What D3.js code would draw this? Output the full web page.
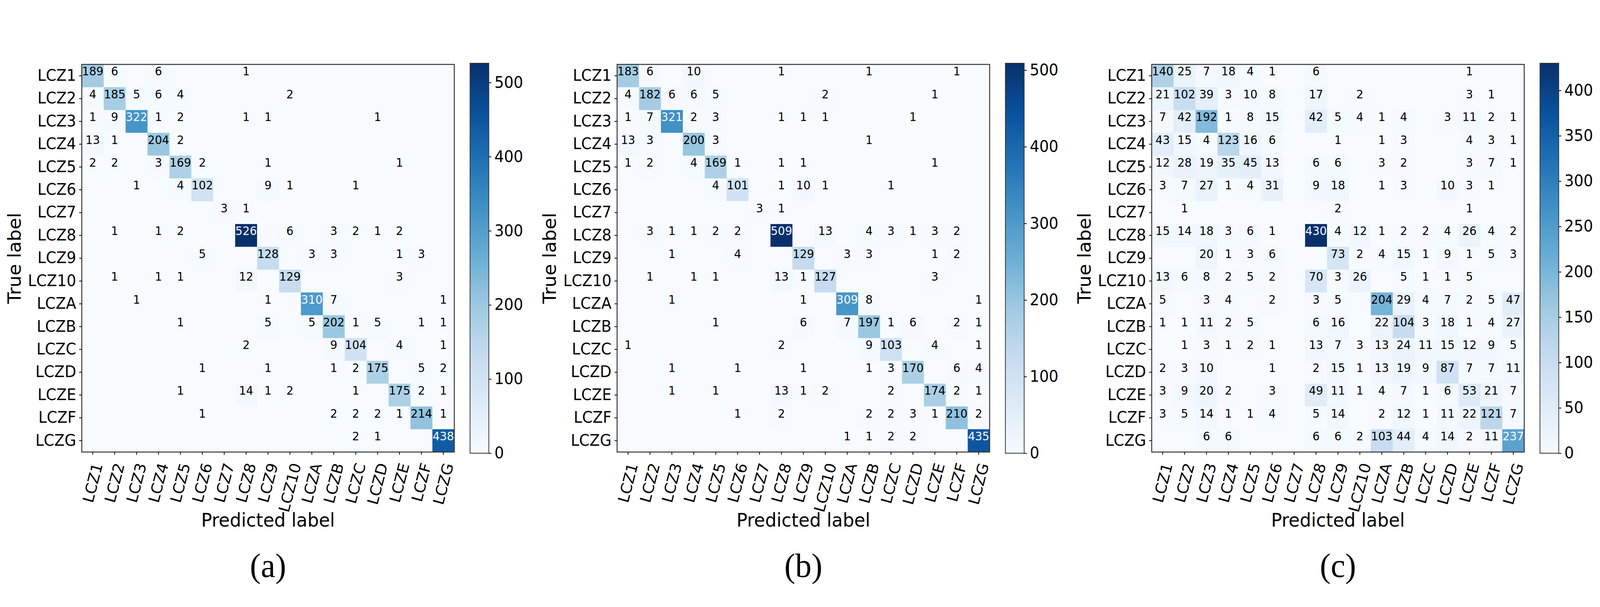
<!DOCTYPE html>
<html>
<head>
<meta charset="utf-8">
<script src="https://cdn.jsdelivr.net/npm/d3@7"></script>
<style>
  html, body { margin: 0; padding: 0; background: #fff; overflow: hidden; }
  svg { display: block; width: 100vw; height: 100vh; }
  text { font-family: "DejaVu Sans", sans-serif; }
</style>
</head>
<body>
<svg id="svg" viewBox="0 0 4265 1555" preserveAspectRatio="none"></svg>
<script>
// class labels (rows = true, cols = predicted)
var classes = ['LCZ1', 'LCZ2', 'LCZ3', 'LCZ4', 'LCZ5', 'LCZ6', 'LCZ7', 'LCZ8', 'LCZ9',
    'LCZ10', 'LCZA', 'LCZB', 'LCZC', 'LCZD', 'LCZE', 'LCZF', 'LCZG']

var cmA = [
    [189, 6, 0, 6, 0, 0, 0, 1, 0, 0, 0, 0, 0, 0, 0, 0, 0],
    [4, 185, 5, 6, 4, 0, 0, 0, 0, 2, 0, 0, 0, 0, 0, 0, 0],
    [1, 9, 322, 1, 2, 0, 0, 1, 1, 0, 0, 0, 0, 1, 0, 0, 0],
    [13, 1, 0, 204, 2, 0, 0, 0, 0, 0, 0, 0, 0, 0, 0, 0, 0],
    [2, 2, 0, 3, 169, 2, 0, 0, 1, 0, 0, 0, 0, 0, 1, 0, 0],
    [0, 0, 1, 0, 4, 102, 0, 0, 9, 1, 0, 0, 1, 0, 0, 0, 0],
    [0, 0, 0, 0, 0, 0, 3, 1, 0, 0, 0, 0, 0, 0, 0, 0, 0],
    [0, 1, 0, 1, 2, 0, 0, 526, 0, 6, 0, 3, 2, 1, 2, 0, 0],
    [0, 0, 0, 0, 0, 5, 0, 0, 128, 0, 3, 3, 0, 0, 1, 3, 0],
    [0, 1, 0, 1, 1, 0, 0, 12, 0, 129, 0, 0, 0, 0, 3, 0, 0],
    [0, 0, 1, 0, 0, 0, 0, 0, 1, 0, 310, 7, 0, 0, 0, 0, 1],
    [0, 0, 0, 0, 1, 0, 0, 0, 5, 0, 5, 202, 1, 5, 0, 1, 1],
    [0, 0, 0, 0, 0, 0, 0, 2, 0, 0, 0, 9, 104, 0, 4, 0, 1],
    [0, 0, 0, 0, 0, 1, 0, 0, 1, 0, 0, 1, 2, 175, 0, 5, 2],
    [0, 0, 0, 0, 1, 0, 0, 14, 1, 2, 0, 0, 1, 0, 175, 2, 1],
    [0, 0, 0, 0, 0, 1, 0, 0, 0, 0, 0, 2, 2, 2, 1, 214, 1],
    [0, 0, 0, 0, 0, 0, 0, 0, 0, 0, 0, 0, 2, 1, 0, 0, 438]
]

var cmB = [
    [183, 6, 0, 10, 0, 0, 0, 1, 0, 0, 0, 1, 0, 0, 0, 1, 0],
    [4, 182, 6, 6, 5, 0, 0, 0, 0, 2, 0, 0, 0, 0, 1, 0, 0],
    [1, 7, 321, 2, 3, 0, 0, 1, 1, 1, 0, 0, 0, 1, 0, 0, 0],
    [13, 3, 0, 200, 3, 0, 0, 0, 0, 0, 0, 1, 0, 0, 0, 0, 0],
    [1, 2, 0, 4, 169, 1, 0, 1, 1, 0, 0, 0, 0, 0, 1, 0, 0],
    [0, 0, 0, 0, 4, 101, 0, 1, 10, 1, 0, 0, 1, 0, 0, 0, 0],
    [0, 0, 0, 0, 0, 0, 3, 1, 0, 0, 0, 0, 0, 0, 0, 0, 0],
    [0, 3, 1, 1, 2, 2, 0, 509, 0, 13, 0, 4, 3, 1, 3, 2, 0],
    [0, 0, 1, 0, 0, 4, 0, 0, 129, 0, 3, 3, 0, 0, 1, 2, 0],
    [0, 1, 0, 1, 1, 0, 0, 13, 1, 127, 0, 0, 0, 0, 3, 0, 0],
    [0, 0, 1, 0, 0, 0, 0, 0, 1, 0, 309, 8, 0, 0, 0, 0, 1],
    [0, 0, 0, 0, 1, 0, 0, 0, 6, 0, 7, 197, 1, 6, 0, 2, 1],
    [1, 0, 0, 0, 0, 0, 0, 2, 0, 0, 0, 9, 103, 0, 4, 0, 1],
    [0, 0, 1, 0, 0, 1, 0, 0, 1, 0, 0, 1, 3, 170, 0, 6, 4],
    [0, 0, 1, 0, 1, 0, 0, 13, 1, 2, 0, 0, 2, 0, 174, 2, 1],
    [0, 0, 0, 0, 0, 1, 0, 2, 0, 0, 0, 2, 2, 3, 1, 210, 2],
    [0, 0, 0, 0, 0, 0, 0, 0, 0, 0, 1, 1, 2, 2, 0, 0, 435]
]

var cmC = [
    [140, 25, 7, 18, 4, 1, 0, 6, 0, 0, 0, 0, 0, 0, 1, 0, 0],
    [21, 102, 39, 3, 10, 8, 0, 17, 0, 2, 0, 0, 0, 0, 3, 1, 0],
    [7, 42, 192, 1, 8, 15, 0, 42, 5, 4, 1, 4, 0, 3, 11, 2, 1],
    [43, 15, 4, 123, 16, 6, 0, 0, 1, 0, 1, 3, 0, 0, 4, 3, 1],
    [12, 28, 19, 35, 45, 13, 0, 6, 6, 0, 3, 2, 0, 0, 3, 7, 1],
    [3, 7, 27, 1, 4, 31, 0, 9, 18, 0, 1, 3, 0, 10, 3, 1, 0],
    [0, 1, 0, 0, 0, 0, 0, 0, 2, 0, 0, 0, 0, 0, 1, 0, 0],
    [15, 14, 18, 3, 6, 1, 0, 430, 4, 12, 1, 2, 2, 4, 26, 4, 2],
    [0, 0, 20, 1, 3, 6, 0, 0, 73, 2, 4, 15, 1, 9, 1, 5, 3],
    [13, 6, 8, 2, 5, 2, 0, 70, 3, 26, 0, 5, 1, 1, 5, 0, 0],
    [5, 0, 3, 4, 0, 2, 0, 3, 5, 0, 204, 29, 4, 7, 2, 5, 47],
    [1, 1, 11, 2, 5, 0, 0, 6, 16, 0, 22, 104, 3, 18, 1, 4, 27],
    [0, 1, 3, 1, 2, 1, 0, 13, 7, 3, 13, 24, 11, 15, 12, 9, 5],
    [2, 3, 10, 0, 0, 1, 0, 2, 15, 1, 13, 19, 9, 87, 7, 7, 11],
    [3, 9, 20, 2, 0, 3, 0, 49, 11, 1, 4, 7, 1, 6, 53, 21, 7],
    [3, 5, 14, 1, 1, 4, 0, 5, 14, 0, 2, 12, 1, 11, 22, 121, 7],
    [0, 0, 6, 6, 0, 0, 0, 6, 6, 2, 103, 44, 4, 14, 2, 11, 237]
]

var panelNames = ['(a)', '(b)', '(c)']
var cbTicksAB = [0, 100, 200, 300, 400, 500]
var cbTicksC = [0, 50, 100, 150, 200, 250, 300, 350, 400]

// matplotlib "Blues"
var blues = ['#f7fbff', '#deebf7', '#c6dbef', '#9ecae1', '#6baed6', '#4292c6', '#2171b5', '#08519c', '#08306b']

var svg = d3.select('#svg')
svg.append('rect').attr('width', 4265).attr('height', 1555).attr('fill', '#fff')

var size = 993, topY = 165, angle = 75

function drawPanel(cm, left, name, ticks) {

    var vmax = d3.max(cm, function(r) { return d3.max(r) })
    var color = d3.scaleLinear()
        .domain(d3.range(9).map(function(i) { return vmax * i / 8 }))
        .range(blues)

    var x = d3.scaleBand().domain(classes).range([left, left + size])
    var y = d3.scaleBand().domain(classes).range([topY, topY + size])

    var g = svg.append('g')
    var cells = []
    cm.forEach(function(row, i) {
        row.forEach(function(v, j) { cells.push({ r: classes[i], c: classes[j], v: v }) })
    })

    g.selectAll('rect.cell').data(cells).enter().append('rect')
        .attr('x', function(d) { return x(d.c) })
        .attr('y', function(d) { return y(d.r) })
        .attr('width', x.bandwidth() + 0.5)
        .attr('height', y.bandwidth() + 0.5)
        .attr('fill', function(d) { return color(d.v) })

    // zero cells are left blank
    g.selectAll('text.val').data(cells.filter(function(d) { return d.v > 0 })).enter().append('text')
        .attr('x', function(d) { return x(d.c) + x.bandwidth() / 2 })
        .attr('y', function(d) { return y(d.r) + y.bandwidth() / 2 - 11 })
        .attr('text-anchor', 'middle')
        .attr('dominant-baseline', 'central')
        .style('font-size', '30px')
        .attr('fill', function(d) { return d.v > vmax / 2 ? '#f7fbff' : '#000' })
        .text(function(d) { return d.v })

    g.append('rect')
        .attr('x', left).attr('y', topY).attr('width', size).attr('height', size)
        .attr('fill', 'none').attr('stroke', '#333').attr('stroke-width', 2.5)

    // y axis
    var yAxis = g.append('g').attr('transform', 'translate(' + left + ',0)')
        .call(d3.axisLeft(y).tickSize(7).tickPadding(8))
    yAxis.select('.domain').remove()
    yAxis.selectAll('text').style('font-size', '40px').attr('fill', '#000')
    yAxis.selectAll('line').attr('stroke', '#000').attr('stroke-width', 2)

    // x axis, rotated labels top-aligned like matplotlib
    var xAxis = g.append('g').attr('transform', 'translate(0,' + (topY + size) + ')')
        .call(d3.axisBottom(x).tickSize(7))
    xAxis.select('.domain').remove()
    xAxis.selectAll('line').attr('stroke', '#000').attr('stroke-width', 2)
    var rad = angle * Math.PI / 180
    xAxis.selectAll('text')
        .style('font-size', '40px').attr('fill', '#000')
        .attr('text-anchor', 'middle').attr('dominant-baseline', 'central')
        .attr('dy', null)
        .attr('y', 0)
        .attr('transform', function() {
            var w = this.getComputedTextLength(), h = 40
            var bh = w * Math.sin(rad) + h * Math.cos(rad)
            return 'translate(0,' + (24 + bh / 2) + ') rotate(' + (-angle) + ')'
        })

    g.append('text')
        .attr('x', left + size / 2).attr('y', 1332)
        .attr('text-anchor', 'middle').attr('dominant-baseline', 'central')
        .style('font-size', '48px')
        .text('Predicted label')

    g.append('text')
        .attr('transform', 'translate(' + (left - 180) + ',' + (topY + size / 2) + ') rotate(-90)')
        .attr('text-anchor', 'middle').attr('dominant-baseline', 'central')
        .style('font-size', '48px')
        .text('True label')

    // colorbar
    var cbx = left + 1035, cbw = 50
    var grad = svg.append('defs').append('linearGradient')
        .attr('id', 'grad' + name.charAt(1))
        .attr('x1', 0).attr('y1', 1).attr('x2', 0).attr('y2', 0)
    blues.forEach(function(c, i) {
        grad.append('stop').attr('offset', i / 8).attr('stop-color', c)
    })
    var cbScale = d3.scaleLinear().domain([0, vmax]).range([topY + size + 3, topY - 3])
    g.append('rect')
        .attr('x', cbx).attr('y', cbScale(vmax)).attr('width', cbw)
        .attr('height', cbScale(0) - cbScale(vmax))
        .attr('fill', 'url(#grad' + name.charAt(1) + ')')
        .attr('stroke', '#333').attr('stroke-width', 2)

    var cbAxis = g.append('g').attr('transform', 'translate(' + (cbx + cbw) + ',0)')
        .call(d3.axisRight(cbScale).tickValues(ticks).tickSize(7).tickPadding(8).tickFormat(d3.format('d')))
    cbAxis.select('.domain').remove()
    cbAxis.selectAll('text').style('font-size', '40px').attr('fill', '#000')
    cbAxis.selectAll('line').attr('stroke', '#000').attr('stroke-width', 2)

    g.append('text')
        .attr('x', left + size / 2).attr('y', 1478)
        .attr('text-anchor', 'middle')
        .style('font-family', '"Liberation Serif", serif')
        .style('font-size', '87px')
        .text(name)
}

var mats = [cmA, cmB, cmC]
var lefts = [218, 1645, 3070]
mats.forEach(function(cm, i) {
    drawPanel(cm, lefts[i], panelNames[i], i == 2 ? cbTicksC : cbTicksAB)
})
</script>
</body>
</html>
